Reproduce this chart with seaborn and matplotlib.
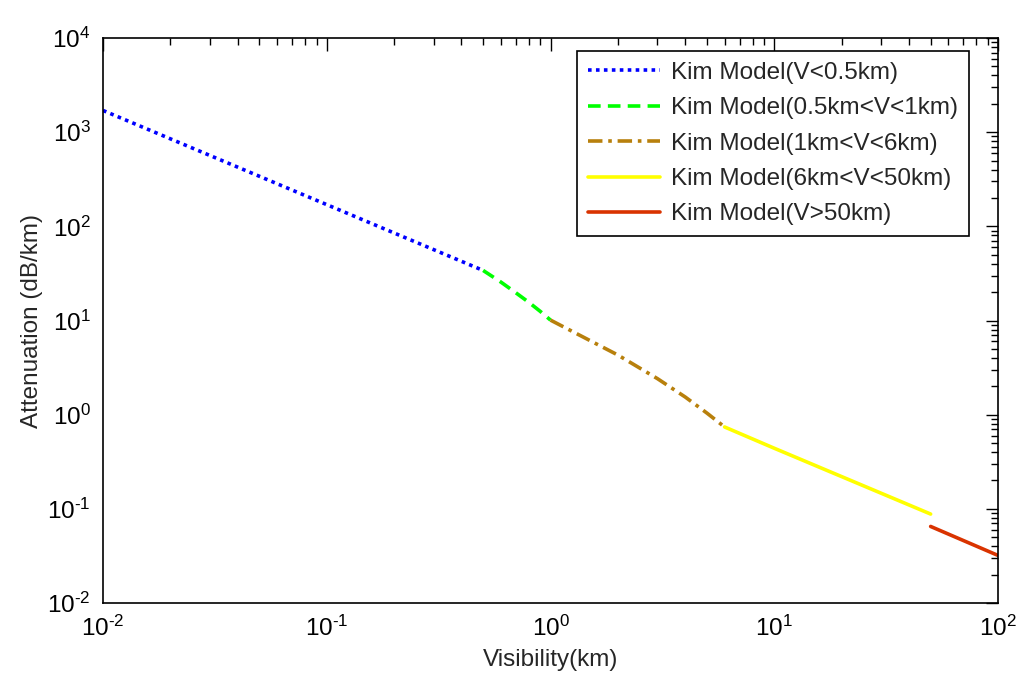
import numpy as np
import pandas as pd
import seaborn as sns
import matplotlib.pyplot as plt
from matplotlib.ticker import LogLocator, FuncFormatter, NullFormatter

# values (visibility in km, attenuation in dB/km)
v_seg1 = [0.01, 0.02, 0.05, 0.1, 0.2, 0.5]
a_seg1 = [1700, 850, 340, 170, 85, 34]

v_seg2 = [0.5, 0.6, 0.7, 0.8, 0.9, 1.0]
a_seg2 = [34, 25.6, 19.7, 15.6, 12.5, 10.1]

v_seg3 = [1, 2, 3, 4, 5, 6]
a_seg3 = [10.1, 4.3, 2.42, 1.54, 1.04, 0.74]

v_seg4 = [6, 10, 20, 50]
a_seg4 = [0.74, 0.44, 0.22, 0.088]

v_seg5 = [50, 100]
a_seg5 = [0.065, 0.032]

labels = [
    "Kim Model(V<0.5km)",
    "Kim Model(0.5km<V<1km)",
    "Kim Model(1km<V<6km)",
    "Kim Model(6km<V<50km)",
    "Kim Model(V>50km)",
]
colors = ["#0000FF", "#00FF00", "#B8800C", "#FFFF00", "#D93300"]
styles = [(0, (1, 1.2)), (0, (3.5, 2)), (0, (4, 1.6, 1, 1.6)), "-", "-"]

segs = [
    (v_seg1, a_seg1),
    (v_seg2, a_seg2),
    (v_seg3, a_seg3),
    (v_seg4, a_seg4),
    (v_seg5, a_seg5),
]

sns.set_style("white")
plt.rcParams["font.family"] = ["Liberation Sans", "DejaVu Sans"]
plt.rcParams["mathtext.fontset"] = "custom"
plt.rcParams["mathtext.rm"] = "Liberation Sans"
plt.rcParams["mathtext.it"] = "Liberation Sans"

fig = plt.figure(figsize=(10.21, 6.86), dpi=100)
# axes box: x 103..998 px, y 38..603 px
ax = fig.add_axes([103 / 1021, 83 / 686, 895 / 1021, 565 / 686])

for (v, a), lab, c, ls in zip(segs, labels, colors, styles):
    d = pd.DataFrame({"V": v, "A": a})
    sns.lineplot(data=d, x="V", y="A", ax=ax, color=c, linestyle=ls,
                 linewidth=2.6, label=lab, sort=False)

ax.set_xscale("log")
ax.set_yscale("log")
ax.set_xlim(1e-2, 1e2)
ax.set_ylim(1e-2, 1e4)
ax.xaxis.set_major_locator(LogLocator(base=10, numticks=10))
ax.yaxis.set_major_locator(LogLocator(base=10, numticks=10))
ax.xaxis.set_minor_locator(LogLocator(base=10, subs=np.arange(2, 10), numticks=20))
ax.yaxis.set_minor_locator(LogLocator(base=10, subs=np.arange(2, 10), numticks=20))
fmt = FuncFormatter(lambda x, p: r"$\mathregular{10^{\text{-}%d}}$" % round(-np.log10(x))
                    if x < 1 else r"$\mathregular{10^{%d}}$" % round(np.log10(x)))
ax.xaxis.set_major_formatter(fmt)
ax.yaxis.set_major_formatter(fmt)
ax.xaxis.set_minor_formatter(NullFormatter())
ax.yaxis.set_minor_formatter(NullFormatter())
ax.tick_params(which="both", direction="in", top=True, right=True, colors="black",
               labelsize=17.5, width=1)
ax.tick_params(which="major", length=9)
ax.tick_params(which="minor", length=5)
ax.tick_params(axis="x", which="major", pad=9)
ax.tick_params(axis="y", which="major", pad=9)
for s in ax.spines.values():
    s.set_color("black")
    s.set_linewidth(1.2)

ax.set_xlabel("Visibility(km)", fontsize=17.5, labelpad=6)
ax.set_ylabel("Attenuation (dB/km)", fontsize=17.5, labelpad=3)

leg = ax.legend(loc="upper right", bbox_to_anchor=(0.9676, 0.977), borderaxespad=0,
                fontsize=17.5, frameon=True, fancybox=False,
                edgecolor="black", framealpha=1, handlelength=2.95,
                labelspacing=0.55, borderpad=0.45, handletextpad=0.45)
leg.get_frame().set_linewidth(1.2)

fig.savefig("out.png", dpi=100)
